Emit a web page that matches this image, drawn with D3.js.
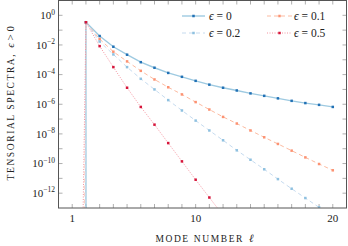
<!DOCTYPE html>
<html>
<head>
<meta charset="utf-8">
<script src="https://cdn.jsdelivr.net/npm/d3@7"></script>
<style>
  body { margin: 0; background: #fff; }
  text { font-family: "Liberation Serif", "DejaVu Serif", serif; fill: #222; }
</style>
</head>
<body>
<svg width="348" height="246"></svg>
<script>
// mode numbers l = 2..20
const modes = [2, 3, 4, 5, 6, 7, 8, 9, 10, 11, 12, 13, 14, 15, 16, 17, 18, 19, 20];

// tensorial spectra
const eps0  = [3.4e-1, 4.0e-2, 7.6e-3, 2.2e-3, 6.9e-4, 2.9e-4, 1.3e-4, 7.1e-5, 3.8e-5, 2.1e-5,
               1.3e-5, 8.5e-6, 5.4e-6, 3.7e-6, 2.5e-6, 1.7e-6, 1.2e-6, 9.1e-7, 6.6e-7];
const eps01 = [3.4e-1, 2.5e-2, 3.5e-3, 7.8e-4, 1.8e-4, 4.7e-5, 1.4e-5, 4.6e-6, 1.4e-6, 4.4e-7,
               1.4e-7, 5.0e-8, 1.7e-8, 5.9e-9, 2.1e-9, 7.4e-10, 2.6e-10, 9.3e-11, 3.5e-11];
const eps02 = [3.4e-1, 1.7e-2, 2.3e-3, 3.2e-4, 5.2e-5, 1.0e-5, 1.9e-6, 3.8e-7, 7.9e-8, 1.7e-8,
               3.7e-9, 7.8e-10, 1.8e-10, 4.1e-11, 8.9e-12, 2.0e-12, 4.7e-13, 1.1e-13, 2.5e-14];
const eps05 = [3.4e-1, 8.3e-3, 3.2e-4, 1.3e-5, 6.6e-7, 4.2e-8, 2.4e-9, 1.4e-10, 8.1e-12, 5.1e-13,
               3.2e-14];

// where each curve falls off to (almost) zero just below l = 2
const dropModes = [2, 1.9, 1.95, 1.75];
const dropValue = 1e-16;

const legendLabels = ["\u03F5 = 0", "\u03F5 = 0.1", "\u03F5 = 0.2", "\u03F5 = 0.5"];
const xTickValues = [1, 2, 3, 4, 5, 6, 7, 8, 9, 10, 11, 12, 13, 14, 15, 16, 17, 18, 19, 20];
const xTickLabels = [1, 10, 20];
const yExponents = [0, -1, -2, -3, -4, -5, -6, -7, -8, -9, -10, -11, -12];
const yLabelExponents = [0, -2, -4, -6, -8, -10, -12];

const series = [
  { values: eps0,  drop: dropModes[0], line: "#9ecae1", mark: "#2171b5", width: 1.4, dash: null },
  { values: eps01, drop: dropModes[1], line: "#fcbba1", mark: "#fc9272", width: 1,   dash: "4,3" },
  { values: eps02, drop: dropModes[2], line: "#c6dbef", mark: "#8fc1e0", width: 1,   dash: "4,3" },
  { values: eps05, drop: dropModes[3], line: "#f4939f", mark: "#d6153a", width: 1,   dash: "1,1.5" }
];

const svg = d3.select("svg");
const pLeft = 58.5, pRight = 346.5, pTop = 0.5, pBottom = 208;

const x = d3.scaleLinear().domain([0, 21]).range([pLeft, pRight]);
const y = d3.scaleLog().domain([1e-13, 1e1]).range([pBottom, pTop]);

svg.append("clipPath").attr("id", "plot")
  .append("rect")
  .attr("x", pLeft).attr("y", pTop)
  .attr("width", pRight - pLeft).attr("height", pBottom - pTop);

// ticks (inward, both sides)
const tickColor = "#9a9a9a";
const ticks = svg.append("g").attr("stroke", tickColor).attr("stroke-width", 0.8);
xTickValues.forEach(v => {
  ticks.append("line").attr("x1", x(v)).attr("x2", x(v)).attr("y1", pBottom).attr("y2", pBottom - 4);
  ticks.append("line").attr("x1", x(v)).attr("x2", x(v)).attr("y1", pTop).attr("y2", pTop + 4);
});
yExponents.forEach(e => {
  const yy = y(Math.pow(10, e));
  ticks.append("line").attr("x1", pLeft).attr("x2", pLeft + 4).attr("y1", yy).attr("y2", yy);
  ticks.append("line").attr("x1", pRight).attr("x2", pRight - 4).attr("y1", yy).attr("y2", yy);
});

// curves
const line = d3.line().x(d => x(d[0])).y(d => y(d[1]));
const plot = svg.append("g").attr("clip-path", "url(#plot)");

series.forEach(s => {
  const pts = s.values.map((v, i) => [modes[i], v]);
  plot.append("path")
    .datum([[s.drop, dropValue]].concat(pts))
    .attr("fill", "none")
    .attr("stroke", s.line)
    .attr("stroke-width", s.width)
    .attr("stroke-dasharray", s.dash)
    .attr("d", line);
  plot.append("g").selectAll("rect")
    .data(pts)
    .enter()
    .append("rect")
    .attr("x", d => x(d[0]) - 1.25)
    .attr("y", d => y(d[1]) - 1.25)
    .attr("width", 2.5).attr("height", 2.5)
    .attr("fill", s.mark);
});

// frame
svg.append("rect")
  .attr("x", pLeft).attr("y", pTop)
  .attr("width", pRight - pLeft).attr("height", pBottom - pTop)
  .attr("fill", "none").attr("stroke", "#555").attr("stroke-width", 1);

// tick labels
svg.append("g").selectAll("text")
  .data(xTickLabels)
  .enter()
  .append("text")
  .attr("x", d => x(d))
  .attr("y", 222)
  .attr("text-anchor", "middle")
  .attr("font-size", 11)
  .text(d => d);

const yl = svg.append("g").selectAll("text")
  .data(yLabelExponents)
  .enter()
  .append("text")
  .attr("x", 55)
  .attr("y", d => y(Math.pow(10, d)) + 3.8)
  .attr("text-anchor", "end")
  .attr("font-size", 11);
yl.append("tspan").text("10");
yl.append("tspan")
  .attr("dy", -4.5)
  .attr("font-size", 7.5)
  .text(d => d === 0 ? "0" : "\u2212" + (-d));

// axis labels (small caps drawn as spaced capitals)
svg.append("text")
  .attr("x", (pLeft + pRight) / 2 + 2)
  .attr("y", 242)
  .attr("text-anchor", "middle")
  .attr("font-size", 11)
  .call(t => {
    t.append("tspan").attr("font-size", 9.5).attr("letter-spacing", 1.6).text("MODE NUMBER");
    t.append("tspan").attr("dx", 5).attr("font-style", "italic").text("\u2113");
  });

svg.append("text")
  .attr("transform", `translate(13.5,${(pTop + pBottom) / 2 - 1}) rotate(-90)`)
  .attr("text-anchor", "middle")
  .attr("font-size", 11)
  .call(t => {
    t.append("tspan").attr("font-size", 9.5).attr("letter-spacing", 1.6).text("TENSORIAL SPECTRA,");
    t.append("tspan").attr("dx", 5).attr("font-style", "italic").text("\u03F5");
    t.append("tspan").text(" > 0");
  });

// legend
const legendCols = [[182, 205, 209], [267, 292, 294]];
const legendRows = [16, 33];
series.forEach((s, i) => {
  const c = legendCols[i % 2], r = legendRows[Math.floor(i / 2)];
  const g = svg.append("g");
  g.append("line")
    .attr("x1", c[0]).attr("x2", c[1]).attr("y1", r).attr("y2", r)
    .attr("stroke", s.line).attr("stroke-width", s.width)
    .attr("stroke-dasharray", s.dash);
  g.append("rect")
    .attr("x", (c[0] + c[1]) / 2 - 1.25).attr("y", r - 1.25)
    .attr("width", 2.5).attr("height", 2.5)
    .attr("fill", s.mark);
  const t = g.append("text")
    .attr("x", c[2]).attr("y", r + 4)
    .attr("font-size", 11.5);
  t.append("tspan").attr("font-style", "italic").text(legendLabels[i].slice(0, 1));
  t.append("tspan").text(legendLabels[i].slice(1));
});
</script>
</body>
</html>
